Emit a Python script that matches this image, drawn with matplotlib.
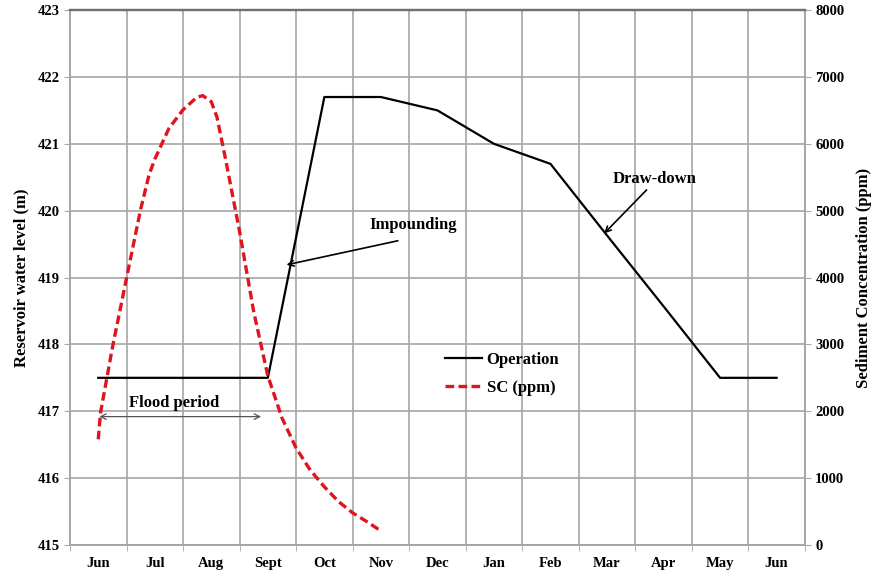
import numpy as np
import matplotlib
matplotlib.use("Agg")
import matplotlib.pyplot as plt

plt.rcParams['font.family'] = ['Liberation Serif', 'DejaVu Serif']
plt.rcParams['font.weight'] = 'bold'

months = ['Jun', 'Jul', 'Aug', 'Sept', 'Oct', 'Nov', 'Dec',
          'Jan', 'Feb', 'Mar', 'Apr', 'May', 'Jun']
# reservoir operation level (m), one value per month
operation = [417.5, 417.5, 417.5, 417.5, 421.7, 421.7, 421.5,
             421.0, 420.7, 419.63, 418.57, 417.5, 417.5]
# sediment concentration (ppm), read every quarter month
sc_x = [0, 0.04, 0.25, 0.5, 0.75, 0.9, 1.0, 1.25, 1.5, 1.75, 1.85, 2.0,
        2.1, 2.25, 2.5, 2.75, 3.0, 3.25, 3.5, 3.75, 4.0, 4.25, 4.5, 4.75, 5.0]
sc_ppm = [1580, 1975, 2950, 3990, 5020, 5540, 5770, 6230, 6510, 6700, 6720, 6630,
          6400, 5780, 4690, 3490, 2530, 1900, 1450, 1120, 870, 650, 480, 350, 210]

grid_col = '#a6a6a6'

fig = plt.figure(figsize=(8.78, 5.77), dpi=100)
ax = fig.add_axes([0.0797, 0.0555, 0.837, 0.927])
ax2 = ax.twinx()

x = np.arange(len(months))
l1, = ax.plot(x, operation, color='black', lw=1.6, label='Operation')
l2, = ax2.plot(sc_x, sc_ppm, color='#e0141e', lw=2.4, ls=(0, (2.6, 1.3)),
               label='SC (ppm)')

ax.set_xlim(-0.5, 12.5)
ax.set_ylim(415, 423)
ax2.set_ylim(0, 8000)

ax.set_xticks(x)
ax.set_xticklabels(months, fontsize=10.5, fontweight='bold')
ax.set_xticks(np.arange(-0.5, 13, 1), minor=True)
ax.tick_params(axis='x', which='major', length=0, pad=9)
ax.tick_params(axis='x', which='minor', length=4, color=grid_col)
ax.set_yticks(np.arange(415, 424, 1))
ax.tick_params(axis='y', length=4, color=grid_col, labelsize=10.5)
ax2.set_yticks(np.arange(0, 8001, 1000))
ax2.tick_params(axis='y', length=4, color=grid_col, labelsize=10.5)
for lab in ax.get_yticklabels() + ax2.get_yticklabels():
    lab.set_fontweight('bold')

ax.grid(True, which='minor', axis='x', color=grid_col, lw=1.2)
ax.grid(True, which='major', axis='y', color=grid_col, lw=1.2)
ax.set_axisbelow(True)

for a in (ax, ax2):
    for s in a.spines.values():
        s.set_color(grid_col)
        s.set_linewidth(1.2)
    a.spines['top'].set_color('#707070')
    a.spines['top'].set_linewidth(1.6)

ax.set_ylabel('Reservoir water level (m)', fontsize=12, fontweight='bold', labelpad=6)
ax2.set_ylabel('Sediment Concentration (ppm)', fontsize=12, fontweight='bold',
               labelpad=8)

# annotations
ax.annotate('', xy=(-0.03, 416.92), xytext=(2.93, 416.92),
            arrowprops=dict(arrowstyle='<->', color='#555555', lw=0.9))
ax.text(1.35, 417.0, 'Flood period', ha='center', va='bottom', fontsize=12,
        fontweight='bold')
ax.annotate('', xy=(3.33, 419.19), xytext=(5.3, 419.55),
            arrowprops=dict(arrowstyle='->', color='black', lw=1.2,
                            shrinkA=0, shrinkB=0))
ax.text(5.57, 419.79, 'Impounding', ha='center', va='center', fontsize=12,
        fontweight='bold')
ax.annotate('', xy=(8.95, 419.66), xytext=(9.7, 420.31),
            arrowprops=dict(arrowstyle='->', color='black', lw=1.2,
                            shrinkA=0, shrinkB=0))
ax.text(9.84, 420.47, 'Draw-down', ha='center', va='center', fontsize=12,
        fontweight='bold')

ax.legend([l1, l2], ['Operation', 'SC (ppm)'], loc='center left',
          bbox_to_anchor=(0.49, 0.32), frameon=False,
          handlelength=2.2, handletextpad=0.3, labelspacing=0.75,
          prop={'weight': 'bold', 'size': 12})

fig.savefig('out.png', dpi=100)
